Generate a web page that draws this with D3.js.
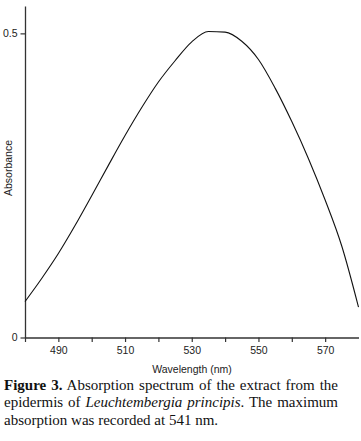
<!DOCTYPE html>
<html>
<head>
<meta charset="utf-8">
<script src="https://cdn.jsdelivr.net/npm/d3@7"></script>
<style>
  html, body { margin: 0; padding: 0; background: #fff; }
  svg { display: block; }
</style>
</head>
<body>
<svg id="chart" width="361" height="441"></svg>
<script>
// Data
const wavelengths = [480, 485, 490, 495, 500, 505, 510, 515, 520, 525, 530, 535, 540, 545, 550, 555, 560, 565, 570, 575, 580];
const absorbance  = [0.059, 0.097, 0.138, 0.184, 0.233, 0.283, 0.332, 0.378, 0.420, 0.455, 0.486, 0.503, 0.502, 0.487, 0.457, 0.410, 0.355, 0.294, 0.226, 0.150, 0.050];
const xTicks = [480, 490, 500, 510, 520, 530, 540, 550, 560, 570];
const xTickLabels = ["", "490", "", "510", "", "530", "", "550", "", "570"];
const yTicks = [0, 0.5];
const yTickLabels = ["0", "0.5"];
const xTitle = "Wavelength (nm)";
const yTitle = "Absorbance";

(function () {
const svg = d3.select("#chart");
const mLeft = 25, mRight = 358.5, mTop = 6, mBottom = 337.5;

const x = d3.scaleLinear().domain([480, 580]).range([mLeft, mRight]);
const y = d3.scaleLinear().domain([0, 0.545]).range([mBottom, mTop]);

const axisColor = "#333";
const sans = "'Liberation Sans', Arial, sans-serif";

// X axis
const gx = svg.append("g").attr("transform", `translate(0,${mBottom})`)
  .call(d3.axisBottom(x).tickValues(xTicks)
    .tickFormat((d, i) => xTickLabels[i]).tickSize(4.5).tickSizeOuter(0).tickPadding(5));
gx.select(".domain").attr("stroke", axisColor).attr("stroke-width", 1.3);
gx.selectAll(".tick line").attr("stroke", axisColor).attr("stroke-width", 1.2);
gx.selectAll(".tick text").attr("font-family", sans).attr("font-size", 10.5).attr("fill", "#222");

// Y axis
const gy = svg.append("g").attr("transform", `translate(${mLeft},0)`)
  .call(d3.axisLeft(y).tickValues(yTicks)
    .tickFormat((d, i) => yTickLabels[i]).tickSize(4.5).tickSizeOuter(0).tickPadding(3));
gy.select(".domain").attr("stroke", axisColor).attr("stroke-width", 1.3);
gy.selectAll(".tick line").attr("stroke", axisColor).attr("stroke-width", 1.2);
gy.selectAll(".tick text").attr("font-family", sans).attr("font-size", 10.5).attr("fill", "#222");

// Curve
const line = d3.line()
  .x((d, i) => x(wavelengths[i]))
  .y(d => y(d))
  .curve(d3.curveMonotoneX);
svg.append("path")
  .attr("d", line(absorbance))
  .attr("fill", "none")
  .attr("stroke", "#111")
  .attr("stroke-width", 1.1);

// Axis titles
svg.append("text")
  .attr("x", 192).attr("y", 373)
  .attr("text-anchor", "middle")
  .attr("font-family", sans).attr("font-size", 10.5).attr("fill", "#222")
  .text(xTitle);
svg.append("text")
  .attr("transform", "translate(11.5,168) rotate(-90)")
  .attr("text-anchor", "middle")
  .attr("font-family", sans).attr("font-size", 10.5).attr("fill", "#222")
  .text(yTitle);

// Caption (justified first two lines)
const serif = "'Liberation Serif', 'Times New Roman', serif";
const capLeft = 4, capRight = 338;
const cap = svg.append("g").attr("font-family", serif).attr("font-size", 15).attr("fill", "#111");
function justify(t) {
  const n = (t.text().match(/ /g) || []).length;
  const w = t.node().getComputedTextLength();
  if (n > 0) t.attr("word-spacing", ((capRight - capLeft) - w) / n);
}
const l1 = cap.append("text").attr("x", capLeft).attr("y", 389.5);
l1.append("tspan").attr("font-weight", "bold").text("Figure 3.");
l1.append("tspan").text(" Absorption spectrum of the extract from the");
justify(l1);
const l2 = cap.append("text").attr("x", capLeft).attr("y", 407);
l2.append("tspan").text("epidermis of ");
l2.append("tspan").attr("font-style", "italic").text("Leuchtembergia principis");
l2.append("tspan").text(". The maximum");
justify(l2);
cap.append("text").attr("x", capLeft).attr("y", 424.5).text("absorption was recorded at 541 nm.");
})();
</script>
</body>
</html>
